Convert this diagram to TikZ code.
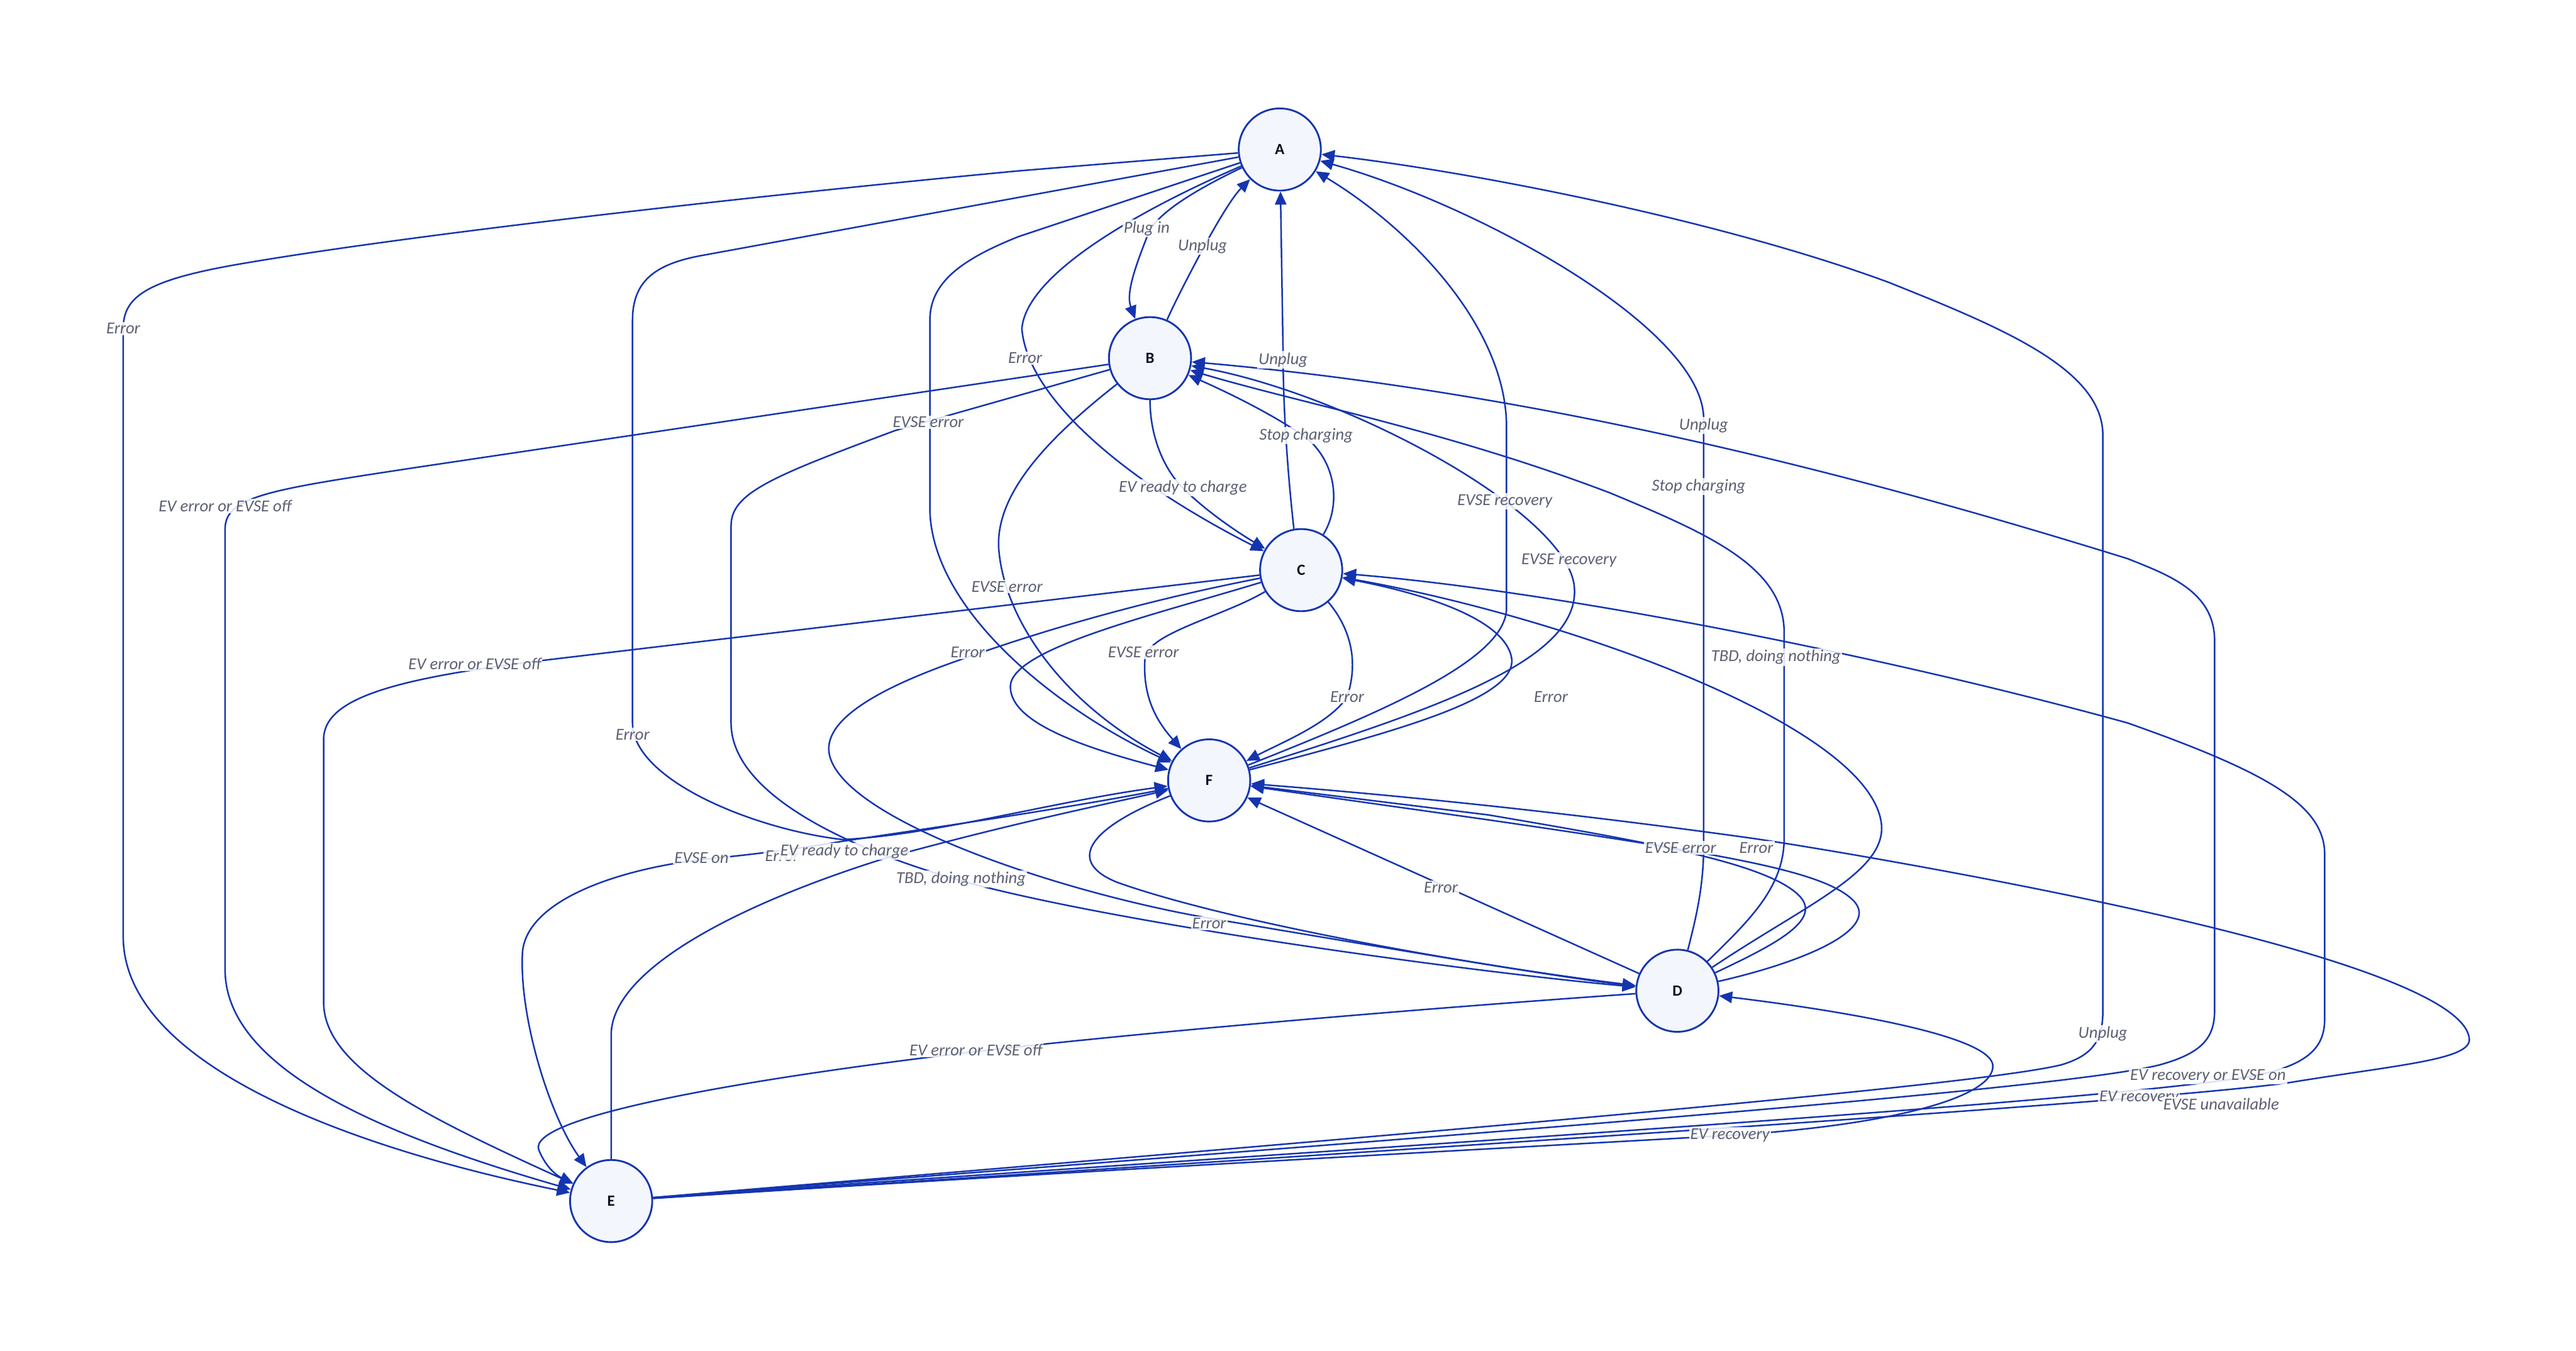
\documentclass[tikz,border=0pt]{standalone}
\usepackage{fontspec}
\setmainfont{Carlito}
\usetikzlibrary{arrows.meta}

\definecolor{edgeblue}{HTML}{1434B0}
\definecolor{statefill}{HTML}{F4F6FD}
\definecolor{statetext}{HTML}{0A0E22}
\definecolor{lblgray}{HTML}{5C6072}

\newcommand{\statefont}{\fontsize{27}{29}\selectfont\bfseries}
\newcommand{\lblfont}{\fontsize{29}{32}\selectfont\itshape}

\begin{document}
\begin{tikzpicture}[
x=1mm, y=-1mm,
state/.style={draw=edgeblue, circle, fill=statefill, line width=1.1mm, minimum size=50mm, inner sep=0pt, font=\statefont, text=statetext},
tr/.style={draw=edgeblue, line width=0.95mm, -{Triangle[length=8mm, width=7mm]}},
lbl/.style={fill=white, fill opacity=0.85, text opacity=1, inner sep=0.8mm, font=\lblfont, text=lblgray}
]
\useasboundingbox (0,0) rectangle (1568,822);

\node[state] (A) at (779,91) {A};

\node[state] (B) at (700,218) {B};

\node[state] (C) at (792,347) {C};

\node[state] (F) at (736,475) {F};

\node[state] (D) at (1021,603) {D};

\node[state] (E) at (372,731) {E};

\draw[tr] (A) .. controls (735,112) and (705,128) .. (699,142) .. controls (692,160) and (685,178) .. (B);
\draw[tr] (A) -- (620,104) .. controls (450,120) and (250,143) .. (150,160) .. controls (90,170) and (75,180) .. (75,200) -- (75,570) .. controls (75,650) and (220,700) .. (E);
\draw[tr] (A) -- (430,155) .. controls (400,160) and (385,170) .. (385,195) -- (385,440) .. controls (385,475) and (460,505) .. (513,511) .. controls (570,508) and (640,488) .. (F);
\draw[tr] (A) -- (620,144) .. controls (585,158) and (566,172) .. (566,195) -- (566,310) .. controls (567,370) and (640,430) .. (F);
\draw[tr] (A) .. controls (700,125) and (625,165) .. (622,200) .. controls (625,240) and (680,290) .. (C);

\draw[tr] (B) .. controls (716,182) and (726,163) .. (733,150) .. controls (740,137) and (750,120) .. (A);
\draw[tr] (B) .. controls (700,265) and (708,285) .. (720,297) .. controls (735,312) and (755,325) .. (C);
\draw[tr] (B) -- (250,285) .. controls (165,298) and (137,302) .. (137,322) -- (137,590) .. controls (137,650) and (230,690) .. (E);
\draw[tr] (B) -- (545,262) .. controls (470,290) and (445,300) .. (445,320) -- (445,440) .. controls (445,490) and (540,525) .. (600,540) .. controls (700,565) and (900,592) .. (D);
\draw[tr] (B) .. controls (640,265) and (605,300) .. (608,335) .. controls (612,380) and (650,430) .. (F);

\draw[tr] (C.100) .. controls (784,290) and (781,250) .. (781,215) -- (A);
\draw[tr] (C) .. controls (815,310) and (815,285) .. (797,268) .. controls (780,255) and (750,240) .. (B);
\draw[tr] (C) .. controls (745,375) and (700,385) .. (697,400) .. controls (695,425) and (705,440) .. (F);
\draw[tr] (C) .. controls (820,380) and (828,400) .. (820,424) .. controls (810,440) and (780,452) .. (F);
\draw[tr] (C) .. controls (700,375) and (615,395) .. (615,418) .. controls (615,440) and (660,455) .. (F);
\draw[tr] (C) .. controls (700,365) and (640,382) .. (589,400) .. controls (530,420) and (500,440) .. (505,460) .. controls (515,500) and (650,545) .. (743,560) .. controls (850,578) and (950,595) .. (D);
\draw[tr] (C) -- (330,402) .. controls (240,413) and (197,425) .. (197,450) -- (197,610) .. controls (197,650) and (260,680) .. (E);

\draw[tr] (F) .. controls (850,430) and (917,400) .. (917,370) -- (917,260) .. controls (917,200) and (860,140) .. (A);
\draw[tr] (F) .. controls (880,430) and (965,400) .. (958,355) .. controls (950,310) and (820,240) .. (B);
\draw[tr] (F) .. controls (850,445) and (925,425) .. (920,400) .. controls (915,375) and (860,360) .. (C);
\draw[tr] (F) .. controls (660,505) and (650,525) .. (680,537) .. controls (750,562) and (900,588) .. (D);
\draw[tr] (F) .. controls (650,492) and (560,505) .. (513,512) .. controls (490,516) and (460,520) .. (428,523) .. controls (370,530) and (320,550) .. (318,580) .. controls (316,620) and (335,680) .. (E);

\draw[tr] (D) .. controls (1032,560) and (1037,540) .. (1037,515) -- (1037,255) .. controls (1037,200) and (900,125) .. (A);
\draw[tr] (D) .. controls (1065,560) and (1086,540) .. (1086,510) -- (1086,385) .. controls (1086,345) and (1040,325) .. (980,300) .. controls (880,262) and (790,245) .. (B);
\draw[tr] (D) .. controls (1100,550) and (1150,530) .. (1145,500) .. controls (1135,440) and (950,375) .. (C);
\draw[tr] (D) -- (F);
\draw[tr] (D) .. controls (1080,575) and (1110,560) .. (1095,545) .. controls (1075,525) and (1000,512) .. (906,496) -- (F);
\draw[tr] (D) .. controls (1100,585) and (1145,565) .. (1128,548) .. controls (1110,530) and (1050,520) .. (906,499) -- (F);
\draw[tr] (D) .. controls (850,615) and (700,628) .. (594,640) .. controls (450,657) and (320,680) .. (328,700) .. controls (333,712) and (340,716) .. (E);

\draw[tr] (E) .. controls (800,695) and (1200,662) .. (1255,648) .. controls (1275,642) and (1280,632) .. (1280,615) -- (1280,265) .. controls (1280,225) and (1220,200) .. (1150,172) .. controls (1050,135) and (900,105) .. (A);
\draw[tr] (E) .. controls (800,697) and (1250,665) .. (1315,648) .. controls (1340,641) and (1348,632) .. (1348,615) -- (1348,390) .. controls (1348,360) and (1320,350) .. (1295,340) .. controls (1150,295) and (950,240) .. (B);
\draw[tr] (E) .. controls (800,700) and (1310,670) .. (1380,653) .. controls (1408,646) and (1415,635) .. (1415,620) -- (1415,520) .. controls (1415,490) and (1380,470) .. (1295,440) .. controls (1150,400) and (950,360) .. (C);
\draw[tr] (E) .. controls (700,710) and (950,697) .. (1053,691) .. controls (1150,685) and (1215,668) .. (1213,648) .. controls (1210,630) and (1120,615) .. (D);
\draw[tr] (E) -- (372,630) .. controls (372,590) and (450,550) .. (540,522) .. controls (620,500) and (680,488) .. (F);
\draw[tr] (E) .. controls (800,703) and (1300,672) .. (1393,659) .. controls (1460,648) and (1505,645) .. (1503,632) .. controls (1500,605) and (1400,575) .. (1283,550) .. controls (1200,532) and (1100,515) .. (1065,510) .. controls (950,494) and (850,484) .. (F);

\node[lbl] (plugin) at (698,139) {Plug in};
\node[lbl] (unplugba) at (732,150) {Unplug};
\node[lbl] (errae) at (75,200) {Error};
\node[lbl] (errac) at (624,218) {Error};
\node[lbl] (unplugca) at (781,219) {Unplug};
\node[lbl] (evseerraf) at (565,257) {EVSE error};
\node[lbl] (unplugda) at (1037,259) {Unplug};
\node[lbl] (stopcb) at (795,265) {Stop charging};
\node[lbl] (stopdb) at (1034,296) {Stop charging};
\node[lbl] (readybc) at (720,297) {EV ready to charge};
\node[lbl] (recfa) at (916,305) {EVSE recovery};
\node[lbl] (evoffbe) at (137,308) {EV error or EVSE off};
\node[lbl] (recfb) at (955,341) {EVSE recovery};
\node[lbl] (evseerrbf) at (613,357) {EVSE error};
\node[lbl] (evseerrcf) at (696,397) {EVSE error};
\node[lbl] (errcd) at (589,397) {Error};
\node[lbl] (tbddc) at (1081,400) {TBD, doing nothing};
\node[lbl] (evoffce) at (289,404) {EV error or EVSE off};
\node[lbl] (errcf) at (820,424) {Error};
\node[lbl] (errfc) at (944,424) {Error};
\node[lbl] (erraf) at (385,447) {Error};
\node[lbl] (evseerrdf) at (1023,516) {EVSE error};
\node[lbl] (errdf) at (1069,516) {Error};
\node[lbl] (errfe) at (476,521) {Error};
\node[lbl] (readyef) at (514,518) {EV ready to charge};
\node[lbl] (evseonef) at (427,522) {EVSE on};
\node[lbl] (tbdbd) at (585,535) {TBD, doing nothing};
\node[lbl] (errdfb) at (877,540) {Error};
\node[lbl] (errfd) at (736,562) {Error};
\node[lbl] (unplugea) at (1280,629) {Unplug};
\node[lbl] (evoffde) at (594,639) {EV error or EVSE off};
\node[lbl] (receb) at (1344,655) {EV recovery or EVSE on};
\node[lbl] (recec) at (1302,668) {EV recovery};
\node[lbl] (unavail) at (1352,672) {EVSE unavailable};
\node[lbl] (reced) at (1053,691) {EV recovery};

\end{tikzpicture}
\end{document}
